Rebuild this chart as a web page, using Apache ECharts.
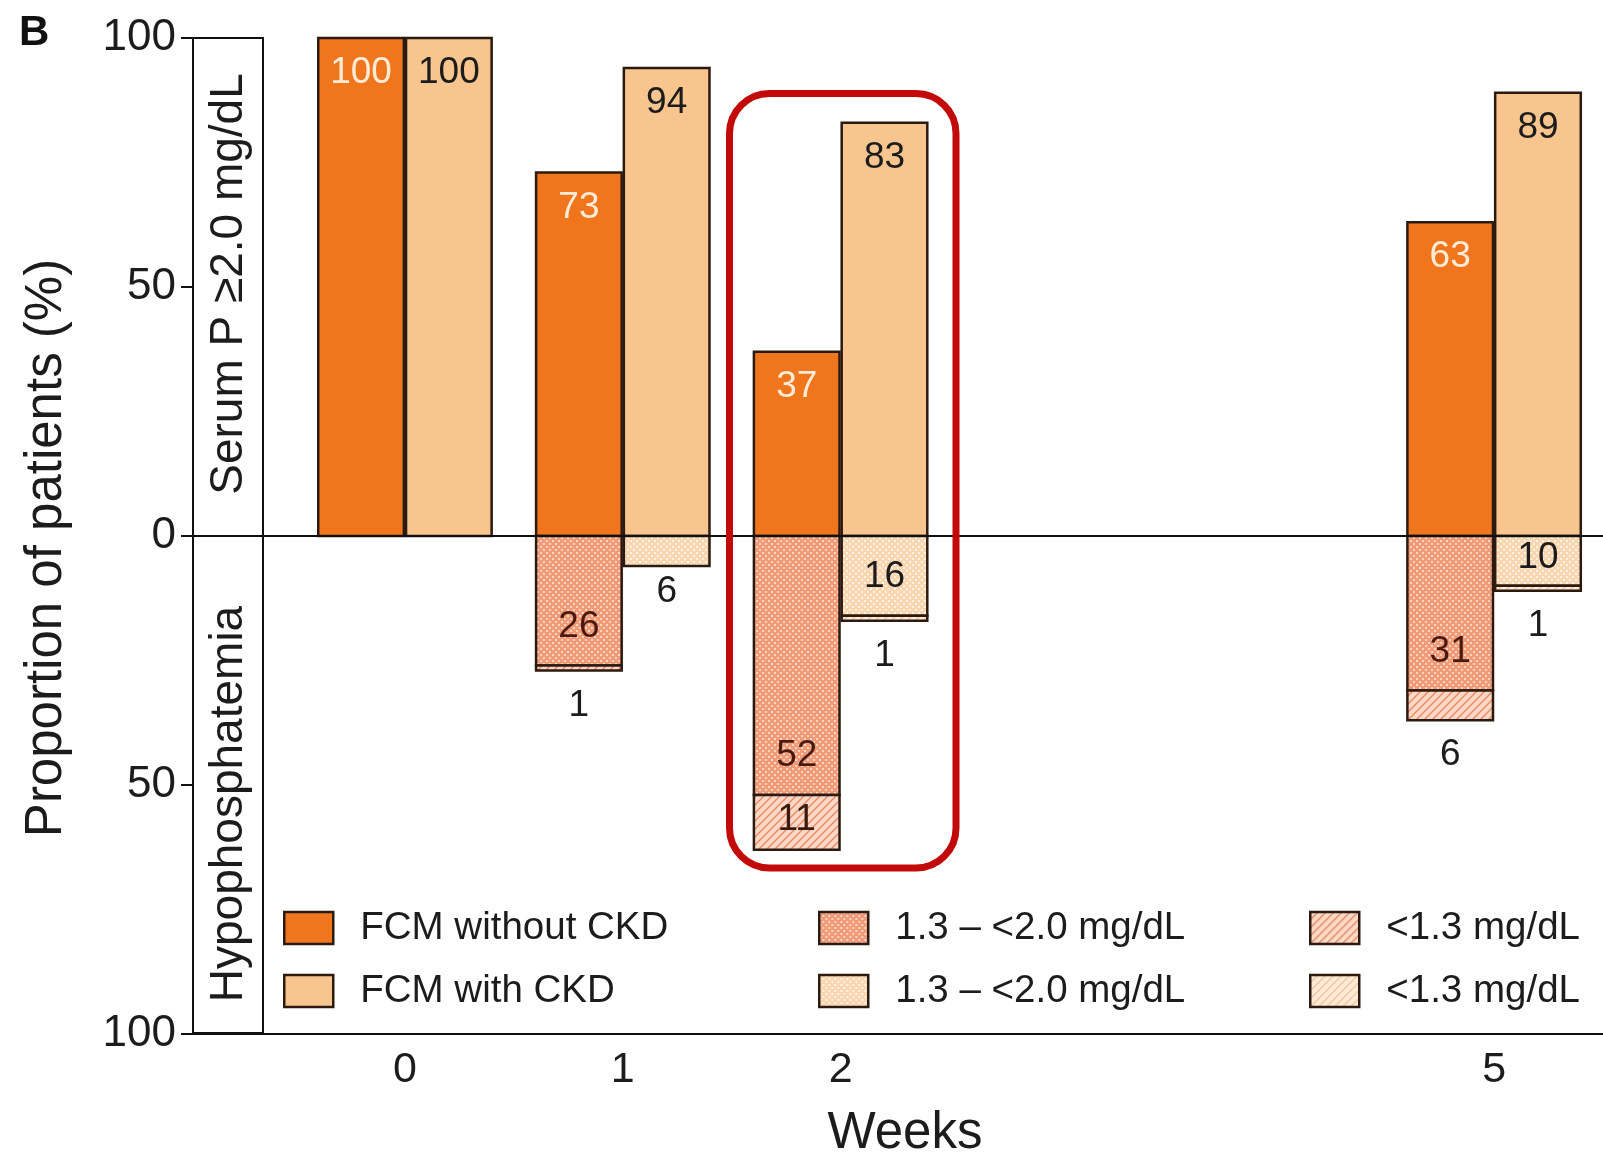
<!DOCTYPE html>
<html>
<head>
<meta charset="utf-8">
<script src="https://cdn.jsdelivr.net/npm/echarts@6/dist/echarts.min.js"></script>
<style>
  html, body { margin: 0; padding: 0; background: #ffffff; }
  #chart { width: 1603px; height: 1154px; }
</style>
</head>
<body>
<div id="chart"></div>
<script>
// Study weeks and tick labels
const weeks = [0, 1, 2, 5];
const weekTicks = [0, 1, 2, 5];

// Serum P >= 2.0 mg/dL (% of patients)
const serumPNoCkd = [100, 73, 37, 63];
const serumPCkd = [100, 94, 83, 89];

// Hypophosphatemia (% of patients), drawn below zero
const hypoModNoCkd = [0, 26, 52, 31];   // 1.3 – <2.0 mg/dL
const hypoSevNoCkd = [0, 1, 11, 6];     // <1.3 mg/dL
const hypoModCkd = [0, 6, 16, 10];      // 1.3 – <2.0 mg/dL
const hypoSevCkd = [0, 0, 1, 1];        // <1.3 mg/dL

const FONT = '"Liberation Sans", Arial, Helvetica, sans-serif';
const INK = '#1c1c1c';
const EDGE = '#2b1a10';
const ORANGE = '#F0761E';
const PEACH = '#F9C58E';
const LABEL_SIZE = 37;

// bar extent in weeks: each group is split at the week value
const BAR_OUTER = 0.398;
const BAR_INNER = 0.005;

// Screen-dot fill for the 1.3 – <2.0 mg/dL band
function dotPattern(base, dot) {
  const c = document.createElement('canvas');
  c.width = 6; c.height = 6;
  const g = c.getContext('2d');
  g.fillStyle = base; g.fillRect(0, 0, 6, 6);
  g.fillStyle = dot;
  g.fillRect(0, 0, 2, 2);
  g.fillRect(3, 3, 2, 2);
  return { image: c, repeat: 'repeat' };
}
// Diagonal hatch fill for the <1.3 mg/dL band
function hatchPattern(base, line) {
  const s = 8;
  const c = document.createElement('canvas');
  c.width = s; c.height = s;
  const g = c.getContext('2d');
  g.fillStyle = base; g.fillRect(0, 0, s, s);
  g.strokeStyle = line; g.lineWidth = 1.4;
  g.beginPath();
  g.moveTo(0, s); g.lineTo(s, 0);
  g.moveTo(-2, 2); g.lineTo(2, -2);
  g.moveTo(s - 2, s + 2); g.lineTo(s + 2, s - 2);
  g.stroke();
  return { image: c, repeat: 'repeat' };
}

const fillModNoCkd = dotPattern('#F09A78', '#FBD5C2');
const fillSevNoCkd = hatchPattern('#FAD8C6', '#E88A66');
const fillModCkd = dotPattern('#F9D6B0', '#FFF3E4');
const fillSevCkd = hatchPattern('#FDEBD8', '#F2C69A');

// Rows of [week, from, to, value]; segments below zero continue from the previous band
function rows(values, below, under) {
  return weeks.map((w, i) => {
    const base = under ? -under[i] : 0;
    const end = below ? base - values[i] : values[i];
    return [w, base, end, values[i]];
  });
}

// Where a segment's value label goes, in pixels
function labelY(kind, v, top, bottom) {
  if (kind === 'pos') return top + 35;
  if (v < 8) return bottom + (kind === 'sev' ? 35 : 26);   // too short: under the bar
  if (kind === 'sev' || v < 13) return (top + bottom) / 2 - 3;
  return bottom - 39;
}

function segmentRenderer(side, kind, fill, textColor) {
  return function (params, api) {
    const v = api.value(3);
    if (!v) return null;
    const w = api.value(0);
    const xa = side < 0 ? w - BAR_OUTER : w + BAR_INNER;
    const xb = side < 0 ? w - BAR_INNER : w + BAR_OUTER;
    const p0 = api.coord([xa, api.value(1)]);
    const p1 = api.coord([xb, api.value(2)]);
    const x = Math.min(p0[0], p1[0]);
    const y = Math.min(p0[1], p1[1]);
    const width = Math.abs(p1[0] - p0[0]);
    const height = Math.abs(p1[1] - p0[1]);
    const outside = kind !== 'pos' && v < 8;
    return {
      type: 'group',
      children: [
        { type: 'rect', shape: { x, y, width, height },
          style: { fill: fill, stroke: EDGE, lineWidth: 2.5 } },
        { type: 'text', x: x + width / 2, y: labelY(kind, v, y, y + height), z2: 5,
          style: { text: String(v), fill: outside ? INK : textColor, fontFamily: FONT,
                   fontSize: LABEL_SIZE, align: 'center', verticalAlign: 'middle' } }
      ]
    };
  };
}

function segmentSeries(name, side, kind, fill, textColor, data) {
  return {
    type: 'custom', name: name,
    renderItem: segmentRenderer(side, kind, fill, textColor),
    itemStyle: { color: fill, borderColor: EDGE, borderWidth: 2.5 },
    encode: { x: 0, y: [1, 2] },
    clip: false,
    silent: true,
    data: data
  };
}

const series = [
  segmentSeries('FCM without CKD', -1, 'pos', ORANGE, '#FFEBD6', rows(serumPNoCkd, false)),
  segmentSeries('FCM with CKD', 1, 'pos', PEACH, INK, rows(serumPCkd, false)),
  segmentSeries('1.3 – <2.0 mg/dL (without CKD)', -1, 'mod', fillModNoCkd, '#4a1a10', rows(hypoModNoCkd, true)),
  segmentSeries('<1.3 mg/dL (without CKD)', -1, 'sev', fillSevNoCkd, '#3a1a10', rows(hypoSevNoCkd, true, hypoModNoCkd)),
  segmentSeries('1.3 – <2.0 mg/dL (with CKD)', 1, 'mod', fillModCkd, INK, rows(hypoModCkd, true)),
  segmentSeries('<1.3 mg/dL (with CKD)', 1, 'sev', fillSevCkd, INK, rows(hypoSevCkd, true, hypoModCkd))
];

// zero reference line between the two halves
series[0].markLine = {
  silent: true, symbol: 'none', animation: false,
  label: { show: false },
  lineStyle: { color: '#111', width: 2, type: 'solid' },
  data: [{ yAxis: 0 }]
};

function legendColumn(left, names) {
  return {
    orient: 'vertical', left: left, top: 908, padding: 0,
    itemWidth: 49, itemHeight: 32, itemGap: 23,
    icon: 'rect',
    selectedMode: false,
    itemStyle: { borderColor: EDGE, borderWidth: 2.5 },
    formatter: n => n.replace(/ \((with|without) CKD\)$/, ''),
    textStyle: { fontFamily: FONT, fontSize: 38.5, color: INK, lineHeight: 40, padding: [0, 0, 0, 22] },
    data: names
  };
}

const chart = echarts.init(document.getElementById('chart'), null, { renderer: 'canvas' });
chart.setOption({
  animation: false,
  backgroundColor: '#ffffff',
  grid: { left: 193, right: 0, top: 38, bottom: 120, containLabel: false, outerBoundsMode: 'none' },
  legend: [
    legendColumn(283, ['FCM without CKD', 'FCM with CKD']),
    legendColumn(818, ['1.3 – <2.0 mg/dL (without CKD)', '1.3 – <2.0 mg/dL (with CKD)']),
    legendColumn(1309, ['<1.3 mg/dL (without CKD)', '<1.3 mg/dL (with CKD)'])
  ],
  xAxis: {
    type: 'value',
    min: -0.973, max: 5.5,
    name: 'Weeks', nameLocation: 'middle', nameGap: 74,
    nameTextStyle: { fontFamily: FONT, fontSize: 51, color: INK, padding: [0, 0, 0, 14] },
    axisLine: { onZero: false, lineStyle: { color: '#111', width: 2 } },
    axisTick: { show: false },
    splitLine: { show: false },
    axisLabel: { customValues: weekTicks, fontFamily: FONT, fontSize: 43, color: INK, margin: 15 }
  },
  yAxis: {
    type: 'value',
    min: -100, max: 100, interval: 50,
    axisLine: { show: true, onZero: false, lineStyle: { color: '#111', width: 2 } },
    axisTick: { show: true, inside: false, length: 12, lineStyle: { color: '#111', width: 2 } },
    splitLine: { show: false },
    axisLabel: { fontFamily: FONT, fontSize: 44, color: INK, margin: 17, formatter: v => Math.abs(v) }
  },
  graphic: [
    { type: 'text', left: 19, top: 12, style: { text: 'B', fontFamily: FONT, fontSize: 42, fontWeight: 'bold', fill: '#111' } },
    // value axis title
    { type: 'text', x: 47, y: 548, rotation: Math.PI / 2,
      style: { text: 'Proportion of patients (%)', fontFamily: FONT, fontSize: 51, fill: INK, align: 'center', verticalAlign: 'middle' } },
    // side panel naming the two halves of the chart
    { type: 'rect', shape: { x: 193, y: 38, width: 70, height: 995 }, style: { fill: 'none', stroke: '#111', lineWidth: 2 }, z: 10 },
    { type: 'text', x: 229, y: 284, rotation: Math.PI / 2, z: 10,
      style: { text: 'Serum P ≥2.0 mg/dL', fontFamily: FONT, fontSize: 46, fill: INK, align: 'center', verticalAlign: 'middle' } },
    { type: 'text', x: 229, y: 804, rotation: Math.PI / 2, z: 10,
      style: { text: 'Hypophosphatemia', fontFamily: FONT, fontSize: 46, fill: INK, align: 'center', verticalAlign: 'middle' } },
    // highlight around week 2
    { type: 'rect', shape: { x: 729.5, y: 93.5, width: 226.5, height: 774.5, r: 40 }, style: { fill: 'none', stroke: '#C20A0A', lineWidth: 7 }, z: 20 }
  ],
  series: series
});
</script>
</body>
</html>
